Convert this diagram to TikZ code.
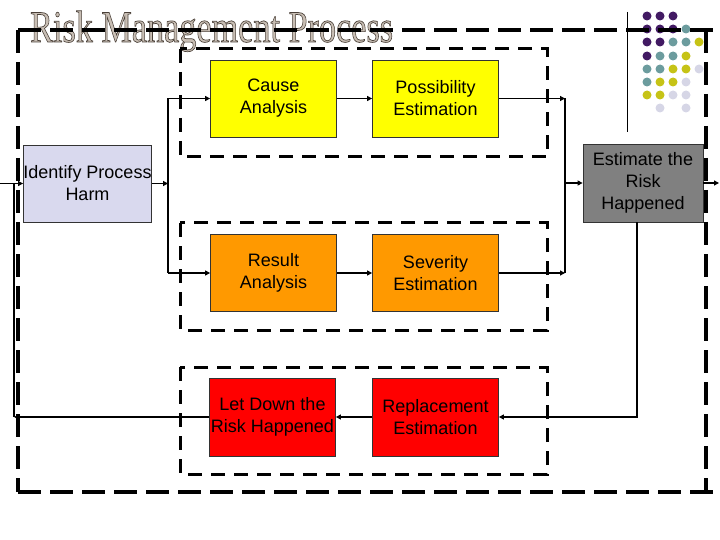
\documentclass[tikz,border=0pt]{standalone}
\usepackage{fontspec}
\usepackage{graphicx}
\setmainfont{Liberation Sans}
\newfontfamily\titlefont{Liberation Serif}
\usetikzlibrary{arrows.meta}
\definecolor{idfill}{HTML}{D9D9EE}
\definecolor{yel}{HTML}{FFFF00}
\definecolor{org}{HTML}{FF9900}
\definecolor{rd}{HTML}{FF0000}
\definecolor{gry}{HTML}{808080}
\definecolor{titlefill}{HTML}{C8BEB4}
\definecolor{dpur}{HTML}{421A63}
\definecolor{dteal}{HTML}{6C9C9E}
\definecolor{dyel}{HTML}{C6C316}
\definecolor{dlav}{HTML}{D6D6E6}
\begin{document}
\begin{tikzpicture}[x=1pt,y=-1pt,
  proc/.style={draw=black!80, line width=0.8pt, minimum width=126pt, minimum height=77pt,
    inner sep=0pt, align=center, font=\fontsize{18}{22}\selectfont},
  grp/.style={draw=black, line width=3pt, dash pattern=on 14pt off 9pt},
  outer/.style={draw=black, line width=3.5pt, dash pattern=on 23pt off 9pt},
  conn/.style={line width=1.2pt, -{Triangle[length=5pt,width=5pt]}},
  ln/.style={line width=1.2pt},
  dot/.style={circle, minimum size=9pt, inner sep=0pt}]
\useasboundingbox (0,0) rectangle (720,540);

% title
\node[anchor=base west, inner sep=0pt, font=\titlefont\fontsize{45}{45}\selectfont] (title) at (30,42)
  {\scalebox{0.76}[1]{\textcolor{titlefill}{\special{pdf:literal direct 0.29 0.25 0.22 RG 2 Tr 0.7 w}Risk Management Process\special{pdf:literal direct 0 Tr}}}};

% decorative dots
\draw[line width=0.8pt] (627,12) -- (627,132);
\foreach \x/\y/\c in {647/16/dpur,660/16/dpur,673/16/dpur,
  647/29/dpur,660/29/dpur,673/29/dpur,686/29/dteal,
  647/42/dpur,660/42/dpur,673/42/dteal,686/42/dteal,699/42/dyel,
  647/56/dpur,660/56/dteal,673/56/dteal,686/56/dyel,
  647/69/dteal,660/69/dteal,673/69/dyel,686/69/dyel,699/69/dlav,
  647/82/dteal,660/82/dyel,673/82/dyel,686/82/dlav,
  647/95/dyel,660/95/dyel,673/95/dlav,686/95/dlav,
  660/108/dlav,686/108/dlav}
  \node[dot, fill=\c] at (\x,\y) {};

% outer frame
\draw[outer] (18,30) -- (720,30);
\draw[outer] (18,30) -- (18,492);
\draw[outer] (706,30) -- (706,492);
\draw[outer] (18,492) -- (720,492);

% group frames
\draw[grp] (180,49) rectangle (547,157);
\draw[grp] (180,223) rectangle (547,330);
\draw[grp] (180,367) rectangle (547,474);

% process boxes
\node[proc, fill=idfill, minimum width=127pt] (id) at (87.5,183.5) {Identify Process\\Harm};
\node[proc, fill=yel] (cause) at (273.5,98.5) {Cause\\Analysis};
\node[proc, fill=yel] (poss) at (435.5,98.5) {Possibility\\Estimation};
\node[proc, fill=org] (res) at (273.5,273) {Result\\Analysis};
\node[proc, fill=org] (sev) at (435.5,273) {Severity\\Estimation};
\node[proc, fill=rd, minimum height=78pt] (let) at (272.5,417) {Let Down the\\Risk Happened};
\node[proc, fill=rd, minimum height=78pt] (rep) at (435.5,417) {Replacement\\Estimation};
\node[proc, fill=gry, minimum width=120pt, minimum height=78pt] (est) at (643,183) {Estimate the\\Risk\\Happened};

% helper coordinates
\coordinate (bl) at (168,0);
\coordinate (br) at (565,0);
\coordinate (fbx) at (637,0);
\coordinate (lx) at (14,0);
\coordinate (st) at (0,0);
\coordinate (en) at (719,0);

% connectors
\draw[conn] (id.west -| st) -- (id.west);
\draw[conn] (id.east) -- (id.east -| bl);
\draw[ln] (cause.west -| bl) -- (res.west -| bl);
\draw[conn] (cause.west -| bl) -- (cause.west);
\draw[conn] (res.west -| bl) -- (res.west);
\draw[conn] (cause.east) -- (poss.west);
\draw[conn] (res.east) -- (sev.west);
\draw[conn] (poss.east) -- (poss.east -| br);
\draw[conn] (sev.east) -- (sev.east -| br);
\draw[ln] (poss.east -| br) -- (sev.east -| br);
\draw[conn] (est.west -| br) -- (est.west);
\draw[conn] (est.east) -- (est.east -| en);
\draw[conn] (est.south -| fbx) |- (rep.east);
\draw[conn] (rep.west) -- (let.east);
\draw[conn] (let.west) -- (let.west -| lx);
\draw[ln] (let.west -| lx) -- (id.west -| lx);
\end{tikzpicture}
\end{document}
